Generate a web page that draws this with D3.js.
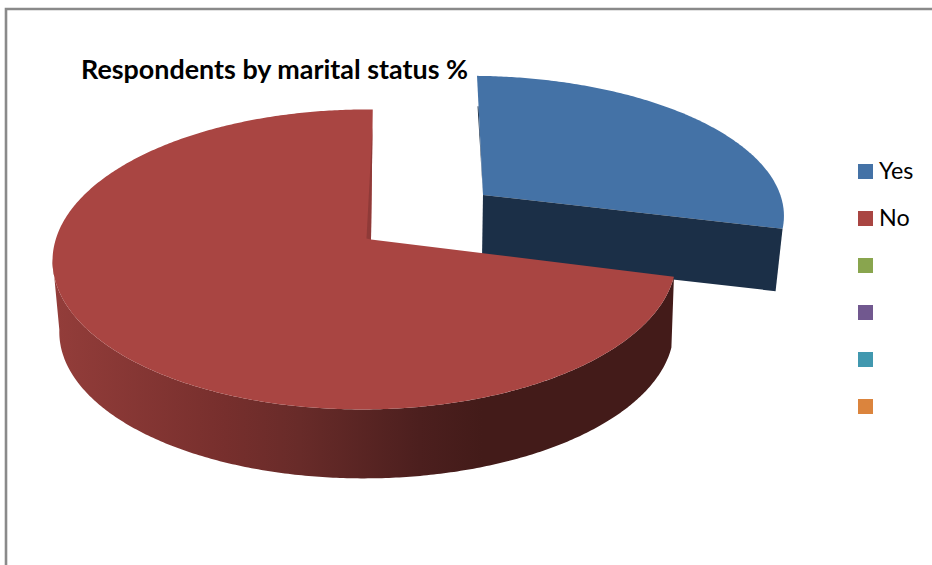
<!DOCTYPE html>
<html><head><meta charset="utf-8">
<script src="https://cdnjs.cloudflare.com/ajax/libs/d3/7.8.5/d3.min.js"></script>
<style>html,body{margin:0;padding:0;background:#fff;overflow:hidden}svg{display:block}text{font-family:Lato,"Open Sans",sans-serif;fill:#000}</style>
</head><body><svg id="c" width="932" height="565"></svg>
<script>
const title = "Respondents by marital status %";
const categories = ["Yes", "No", "", "", "", ""];
const values = [29, 71];
const colors = ["#4472a6", "#a94542", "#89a54e", "#71588f", "#4198af", "#db843d"];
const wallColor = "#1b2f47";

const svg = d3.select("#c");
const color = d3.scaleOrdinal(d3.range(categories.length), colors);

// frame
svg.append("path").attr("d", "M6,565V9H932").attr("fill", "none").attr("stroke", "#8a8a8a").attr("stroke-width", 2.6);

const defs = svg.append("defs");
const grad = defs.append("linearGradient").attr("id", "side").attr("gradientUnits", "userSpaceOnUse")
  .attr("x1", 55).attr("x2", 500).attr("y1", 0).attr("y2", 0);
[[0, "#933d3a"], [.38, "#772f2d"], [.55, "#682b29"], [.82, "#4c1f1e"], [.96, "#431b19"], [1, "#431b19"]]
  .forEach(([o, c]) => grad.append("stop").attr("offset", o).attr("stop-color", c));

const pie = d3.pie().sort(null)(values);
const lineGen = d3.line();

// perspective projection of the tilted disc, per slice
function projector(o) {
  const top = (a, r = 1) => {
    const u = r * Math.sin(a), v = r * Math.cos(a), w = 1 + o.p * v + o.q * u;
    return [o.ax + (o.rx * u + o.s * v) / w, o.ay - o.ry * v / w];
  };
  const bottom = (a, r = 1) => {
    const [x, y] = top(a, r);
    return [o.ax + (x - o.ax) * o.k + o.dx, o.ay + (y - o.ay) * o.k + o.dy];
  };
  return { top, bottom };
}
const arcPts = (fn, a0, a1) => {
  const n = Math.ceil(Math.abs(a1 - a0) / 0.01);
  return d3.range(n + 1).map(i => fn(a0 + (a1 - a0) * i / n));
};

const blue = projector({ ax: 483, ay: 195, rx: 305, ry: 135, p: .133, q: .0257, s: -6.8, k: .98, dx: -1, dy: 63 });
const red  = projector({ ax: 371, ay: 239.5, rx: 309, ry: 147.3, p: .133, q: .02, s: 2, k: .985, dx: 2, dy: 71.5 });

const [yes, no] = pie;

// Yes slice
svg.append("path").attr("fill", wallColor)
  .attr("d", lineGen([[...blue.top(yes.startAngle, .72)], blue.top(yes.startAngle, 0), [blue.top(yes.startAngle, .72)[0] - 1, blue.top(yes.startAngle, .72)[1]]]) + "Z");
svg.append("path").attr("fill", color(0))
  .attr("d", lineGen([blue.top(0, 0), ...arcPts(a => blue.top(a), yes.startAngle, yes.endAngle)]) + "Z");
svg.append("path").attr("fill", wallColor)
  .attr("d", lineGen([blue.top(0, 0), blue.top(yes.endAngle), blue.bottom(yes.endAngle), blue.bottom(0, 0)]) + "Z");

// No slice
const sideStart = no.startAngle, sideEnd = Math.PI * 1.46;
svg.append("path").attr("fill", "url(#side)")
  .attr("d", lineGen([...arcPts(a => red.top(a), sideStart, sideEnd), ...arcPts(a => red.bottom(a), sideEnd, sideStart)]) + "Z");
svg.append("path").attr("fill", color(1))
  .attr("d", lineGen([red.top(0, 0), ...arcPts(a => red.top(a), no.startAngle, no.endAngle)]) + "Z");
const tipA = red.top(no.endAngle, .86), tipB = red.top(no.endAngle, 0);
svg.append("path").attr("fill", "#8f3a38")
  .attr("d", lineGen([tipA, tipB, [tipB[0] - 4.5, tipB[1] - 1]]) + "Z");

// title
svg.append("text").attr("x", 81).attr("y", 79).attr("font-size", 26.9).attr("font-weight", 700).text(title);

// legend
const legendY = d3.scaleLinear().domain([0, 1]).range([164, 211]);
const legend = svg.selectAll("g.l").data(categories).join("g").attr("class", "l");
legend.append("rect").attr("x", 858).attr("y", (d, i) => legendY(i)).attr("width", 15).attr("height", 15).attr("fill", (d, i) => color(i));
legend.append("text").attr("x", 879).attr("y", (d, i) => legendY(i) + 15).attr("font-size", 23.3).text(d => d);
</script></body></html>
